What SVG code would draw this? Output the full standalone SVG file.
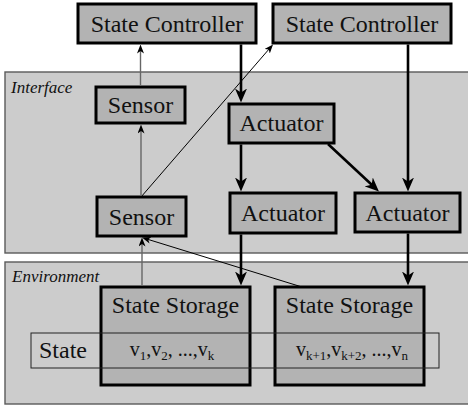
<svg xmlns="http://www.w3.org/2000/svg" width="468" height="407" viewBox="0 0 468 407">
  <style>
    .panel { fill: #cccccc; stroke: #5a5a5a; stroke-width: 1.4; }
    .box { fill: #b3b3b3; stroke: #000; stroke-width: 3; }
    .strip { fill: none; stroke: #222; stroke-width: 1; }
    .lbl { font-family: "Liberation Serif", "DejaVu Serif", serif; font-size: 24px; fill: #111; text-anchor: middle; }
    .val { font-family: "Liberation Serif", "DejaVu Serif", serif; font-size: 20px; fill: #111; text-anchor: middle; }
    .pl { font-family: "Liberation Serif", "DejaVu Serif", serif; font-size: 17px; font-style: italic; fill: #111; }
    .thick { stroke: #000; stroke-width: 2.6; fill: none; marker-end: url(#head); }
    .thin { stroke: #000; stroke-width: 1; fill: none; marker-end: url(#small); }
    .grey { stroke: #666; stroke-width: 1.4; fill: none; marker-end: url(#small); }
  </style>
  <defs>
    <marker id="head" markerUnits="userSpaceOnUse" markerWidth="14" markerHeight="12" refX="6" refY="6" orient="auto">
      <path d="M0,0 L14,6 L0,12 L4,6 Z" fill="#000"/>
    </marker>
    <marker id="small" markerUnits="userSpaceOnUse" markerWidth="9" markerHeight="7" refX="3" refY="3.5" orient="auto">
      <path d="M0,0 L9,3.5 L0,7 L2.5,3.5 Z" fill="#000"/>
    </marker>
  </defs>

  <!-- layer panels -->
  <g id="interface">
    <rect class="panel" x="5" y="72" width="470" height="181"/>
    <text class="pl" x="11" y="93">Interface</text>
  </g>
  <g id="environment">
    <rect class="panel" x="5" y="262" width="470" height="142"/>
    <text class="pl" x="12" y="282">Environment</text>
  </g>

  <!-- nodes -->
  <g id="controller1">
    <rect class="box" x="78" y="4" width="178" height="39"/>
    <text class="lbl" x="167" y="32">State Controller</text>
  </g>
  <g id="controller2">
    <rect class="box" x="273" y="4" width="178" height="39"/>
    <text class="lbl" x="362" y="32">State Controller</text>
  </g>
  <g id="sensor1">
    <rect class="box" x="96" y="87" width="89" height="36"/>
    <text class="lbl" x="140.5" y="113">Sensor</text>
  </g>
  <g id="sensor2">
    <rect class="box" x="97" y="197" width="89" height="39"/>
    <text class="lbl" x="141.5" y="225">Sensor</text>
  </g>
  <g id="actuator1">
    <rect class="box" x="229" y="104" width="105" height="39"/>
    <text class="lbl" x="281.5" y="131">Actuator</text>
  </g>
  <g id="actuator2">
    <rect class="box" x="230" y="193" width="106" height="40"/>
    <text class="lbl" x="283" y="221">Actuator</text>
  </g>
  <g id="actuator3">
    <rect class="box" x="355" y="193" width="105" height="39"/>
    <text class="lbl" x="407.5" y="221">Actuator</text>
  </g>
  <g id="storage1">
    <rect class="box" x="101" y="287" width="149" height="98"/>
    <text class="lbl" x="175.5" y="313">State Storage</text>
  </g>
  <g id="storage2">
    <rect class="box" x="275" y="287" width="149" height="98"/>
    <text class="lbl" x="349.5" y="313">State Storage</text>
  </g>
  <g id="state">
    <rect class="strip" x="31" y="333" width="408" height="35"/>
    <text class="lbl" x="63" y="358">State</text>
    <text class="val" x="172" y="356">v<tspan font-size="13" dy="4">1</tspan><tspan dy="-4">,v</tspan><tspan font-size="13" dy="4">2</tspan><tspan dy="-4">, ...,v</tspan><tspan font-size="13" dy="4">k</tspan></text>
    <text class="val" x="352" y="356">v<tspan font-size="13" dy="4">k+1</tspan><tspan dy="-4">,v</tspan><tspan font-size="13" dy="4">k+2</tspan><tspan dy="-4">, ...,v</tspan><tspan font-size="13" dy="4">n</tspan></text>
  </g>

  <!-- connectors -->
  <g id="connectors">
    <line class="thick" x1="241" y1="44.5" x2="241" y2="94.5"/>
    <line class="thick" x1="408" y1="44.5" x2="408" y2="183.5"/>
    <line class="thick" x1="241" y1="144.5" x2="241" y2="183.5"/>
    <line class="thick" x1="328" y1="144" x2="373.1" y2="186"/>
    <line class="thick" x1="241" y1="234.5" x2="241" y2="277.5"/>
    <line class="thick" x1="408" y1="233.5" x2="408" y2="277.5"/>
    <line class="thin" x1="141" y1="197" x2="269.1" y2="49"/>
    <line class="thin" x1="302" y1="287" x2="147.7" y2="239.3"/>
    <line class="grey" x1="140.5" y1="86" x2="140.5" y2="50.5"/>
    <line class="grey" x1="141" y1="196" x2="141" y2="130.5"/>
    <line class="grey" x1="142" y1="286" x2="142" y2="243.5"/>
  </g>
</svg>
